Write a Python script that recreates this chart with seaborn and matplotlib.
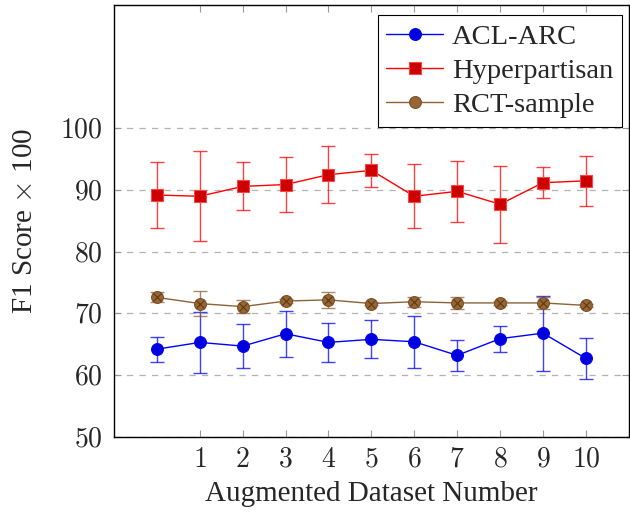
import seaborn as sns
import matplotlib.pyplot as plt
import pandas as pd

sns.set_style("ticks")
plt.rcParams['font.family'] = ['Liberation Serif', 'DejaVu Serif']
plt.rcParams['mathtext.fontset'] = 'cm'

x = [0, 1, 2, 3, 4, 5, 6, 7, 8, 9, 10]
acl = [64.2, 65.3, 64.7, 66.7, 65.3, 65.8, 65.4, 63.2, 65.9, 66.8, 62.7]
acl_err = [2.0, 5.0, 3.6, 3.7, 3.2, 3.1, 4.2, 2.5, 2.1, 6.1, 3.3]
hyp = [89.2, 89.0, 90.6, 90.9, 92.5, 93.2, 89.0, 89.8, 87.7, 91.2, 91.5]
hyp_err = [5.4, 7.3, 3.9, 4.5, 4.6, 2.7, 5.2, 5.0, 6.2, 2.5, 4.0]
rct = [72.6, 71.6, 71.1, 72.0, 72.2, 71.6, 71.9, 71.7, 71.7, 71.7, 71.3]
rct_err = [0.8, 2.0, 1.0, 0.3, 1.3, 0.3, 0.8, 1.0, 0.3, 1.0, 0.3]

names = ["ACL-ARC", "Hyperpartisan", "RCT-sample"]
rows = []
for n, vals, errs in zip(names, [acl, hyp, rct], [acl_err, hyp_err, rct_err]):
    for xi, v, e in zip(x, vals, errs):
        rows.append({"x": xi, "score": v, "err": e, "dataset": n})
df = pd.DataFrame(rows)

fig, ax = plt.subplots(figsize=(6.3, 5.12), dpi=100)
fig.subplots_adjust(left=0.181, right=0.998, top=0.99, bottom=0.147)

ax.set_yticks([50, 60, 70, 80, 90, 100])
ax.yaxis.grid(True, color="#b3b3b3", linestyle=(0, (5, 5)), linewidth=0.9)
ax.set_axisbelow(True)

styles = {
    "ACL-ARC": dict(line="#0000ff", face="#0000dd", edge="#0000ff", marker="o", ms=8.5),
    "Hyperpartisan": dict(line="#ff0000", face="#cc0000", edge="#ff4444", marker="s", ms=8),
    "RCT-sample": dict(line="#8c6239", face="#996633", edge="#7a5028", marker="o", ms=8.5),
}

for n in names:
    s = styles[n]
    d = df[df.dataset == n]
    ax.errorbar(d.x, d.score, yerr=d.err, fmt="none", ecolor=s["line"], alpha=0.75,
                elinewidth=1.0, capsize=5, capthick=1.0, zorder=2)
    sns.lineplot(data=d, x="x", y="score", ax=ax, color=s["line"], linewidth=1.0,
                 marker=s["marker"], markersize=s["ms"], markerfacecolor=s["face"],
                 markeredgecolor=s["edge"], markeredgewidth=0.8, label=n, zorder=3)
    if n == "RCT-sample":
        ax.plot(d.x, d.score, linestyle="none", marker="x", markersize=5.5,
                color="#5a3a18", markeredgewidth=0.8, zorder=4)

ax.set_xlim(-1, 11)
ax.set_ylim(50, 120)
ax.set_xticks(x[1:])
ax.set_xticklabels([f"${v}$" for v in x[1:]], fontsize=20)
ax.set_yticklabels([f"${v}$" for v in [50, 60, 70, 80, 90, 100]], fontsize=20)
ax.tick_params(direction="in", length=5, color="#999999", width=0.8,
               top=True, right=True, pad=8)
for sp in ax.spines.values():
    sp.set_color("black")
    sp.set_linewidth(1.0)

ax.set_xlabel("Augmented Dataset Number", fontsize=21, labelpad=6)
ax.set_ylabel(r"F1 Score $\times$ 100", fontsize=21, labelpad=16)

leg = ax.legend(loc="upper right", fontsize=20.5, frameon=True, fancybox=False,
                edgecolor="black", framealpha=1, borderpad=0.3, handlelength=2.0,
                labelspacing=0.3, handletextpad=0.3, borderaxespad=0,
                bbox_to_anchor=(0.986, 0.977))
leg.get_frame().set_linewidth(0.8)

fig.savefig("out.png", dpi=100)
